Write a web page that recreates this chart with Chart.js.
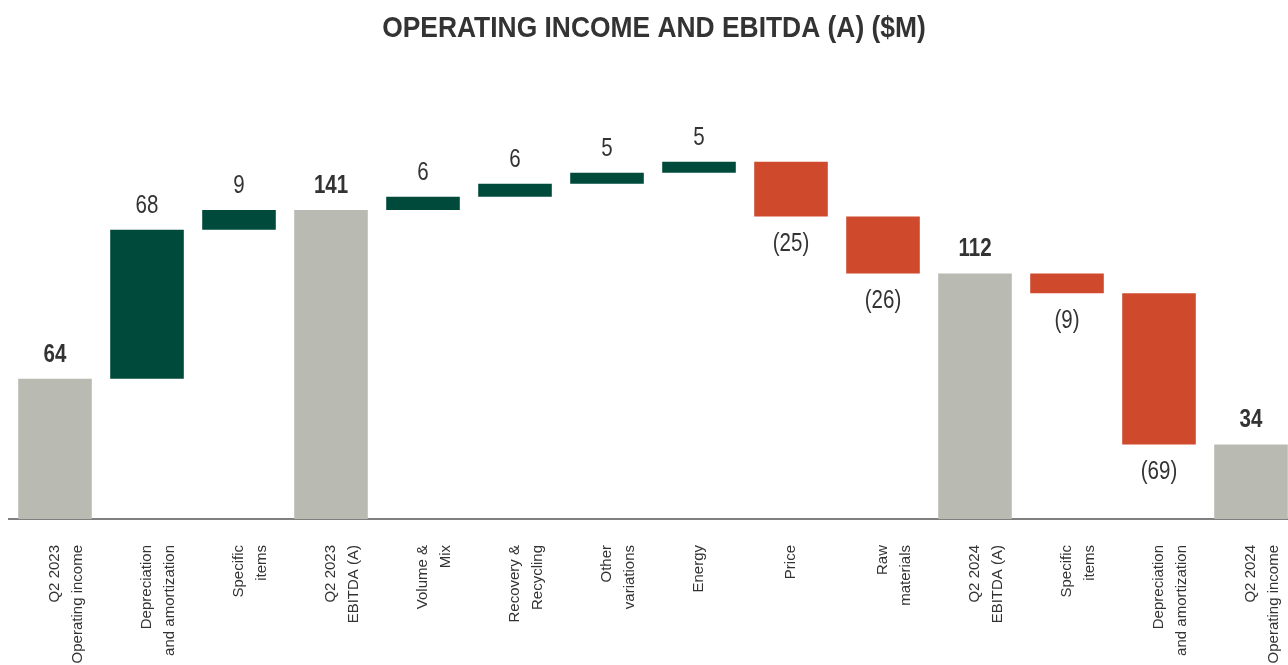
<!DOCTYPE html>
<html>
<head>
<meta charset="utf-8">
<title>Operating income and EBITDA</title>
<script src="https://cdn.jsdelivr.net/npm/chart.js@4.4.1/dist/chart.umd.min.js"></script>
<style>
  html, body { margin: 0; padding: 0; background: #fff; overflow: hidden; }
  #wrap { width: 1300px; height: 665px; }
</style>
</head>
<body>
<div id="wrap"><canvas id="bridgeChart" width="1300" height="665"></canvas></div>
<script>
/* Operating income -> EBITDA bridge, Q2 2023 vs Q2 2024 ($M) */

const chartTitle = 'OPERATING INCOME AND EBITDA (A) ($M)';
const categories = [
  ['Q2 2023', 'Operating income'],
  ['Depreciation', 'and amortization'],
  ['Specific', 'items'],
  ['Q2 2023', 'EBITDA (A)'],
  ['Volume &', 'Mix'],
  ['Recovery &', 'Recycling'],
  ['Other', 'variations'],
  'Energy',
  'Price',
  ['Raw', 'materials'],
  ['Q2 2024', 'EBITDA (A)'],
  ['Specific', 'items'],
  ['Depreciation', 'and amortization'],
  ['Q2 2024', 'Operating income']
];
const values  = [64, 68, 9, 141, 6, 6, 5, 5, -25, -26, 112, -9, -69, 34];
const isTotal = [true, false, false, true, false, false, false, false, false, false, true, false, false, true];

const FONT = "'Liberation Sans', Arial, sans-serif";
const NARROW = 0.82;   // no condensed face installed, squeeze drawn text instead
const COLORS = { total: '#B9BBB2', up: '#004A3C', down: '#CF4A2D', text: '#333333' };

// floating [start, end] ranges for the waterfall
let running = 0;
const ranges = values.map((v, i) => {
  if (isTotal[i]) { running = v; return [0, v]; }
  const r = [running, running + v];
  running += v;
  return r;
});
const barColors = values.map((v, i) => isTotal[i] ? COLORS.total : (v >= 0 ? COLORS.up : COLORS.down));

const fmt = v => v < 0 ? `(${Math.abs(v)})` : `${v}`;

function narrowText(ctx, text, x, y, squeeze) {
  ctx.save();
  ctx.translate(x, y);
  ctx.scale(squeeze, 1);
  ctx.fillText(text, 0, 0);
  ctx.restore();
}

// value labels (above totals / increases, below decreases) + title
const valueLabels = {
  id: 'valueLabels',
  afterDatasetsDraw(chart) {
    const ctx = chart.ctx;
    const meta = chart.getDatasetMeta(0);
    ctx.save();
    ctx.fillStyle = COLORS.text;
    ctx.textAlign = 'center';
    ctx.textBaseline = 'middle';
    meta.data.forEach((bar, i) => {
      const v = values[i];
      const top = Math.min(bar.y, bar.base);
      const bottom = Math.max(bar.y, bar.base);
      ctx.font = `${isTotal[i] ? 'bold ' : ''}25px ${FONT}`;
      if (v >= 0) narrowText(ctx, fmt(v), bar.x, top - 24, NARROW);
      else narrowText(ctx, fmt(v), bar.x, bottom + 28, NARROW);
    });

    ctx.font = `bold 30px ${FONT}`;
    narrowText(ctx, chartTitle, 654, 29, 0.88);
    ctx.restore();
  }
};

new Chart(document.getElementById('bridgeChart').getContext('2d'), {
  type: 'bar',
  data: {
    labels: categories,
    datasets: [{
      data: ranges,
      backgroundColor: barColors,
      borderWidth: 0,
      borderSkipped: false,
      barPercentage: 0.8,
      categoryPercentage: 1.0
    }]
  },
  options: {
    responsive: false,
    animation: false,
    layout: { padding: { left: 9, right: 3, top: 124.5, bottom: 0 } },
    plugins: {
      legend: { display: false },
      tooltip: { enabled: false },
      title: { display: false }
    },
    scales: {
      x: {
        grid: { display: false },
        border: { display: true, color: '#7F7F7F', width: 2 },
        ticks: {
          autoSkip: false,
          minRotation: 90,
          maxRotation: 90,
          padding: 18,
          color: COLORS.text,
          font: { family: FONT, size: 15, lineHeight: 1.55 }
        },
        afterFit(scale) {
          scale.height = 146;
          scale.paddingLeft = 0;
          scale.paddingRight = 0;
        }
      },
      y: {
        display: false,
        min: 0,
        max: 180
      }
    }
  },
  plugins: [valueLabels]
});
</script>
</body>
</html>
